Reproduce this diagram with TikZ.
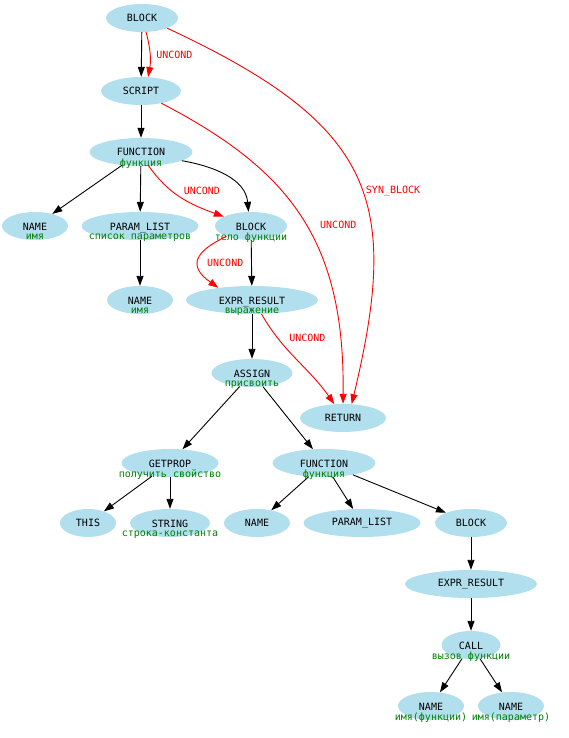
\documentclass[tikz,border=0pt]{standalone}
\usepackage{fontspec}
\setmonofont{DejaVu Sans Mono}
\usetikzlibrary{arrows.meta,shapes.geometric,positioning}
\definecolor{astfill}{RGB}{178,223,238}
\definecolor{astgreen}{RGB}{0,128,0}
\definecolor{astred}{RGB}{255,0,0}
% node text: zero width, so the ellipse keeps its own width
\newcommand{\olbl}[1]{\makebox[0pt]{#1}}
\newcommand{\nlbl}[2]{\makebox[0pt]{\raisebox{-4pt}[0pt][0pt]{%
  \begin{tabular}[t]{@{}c@{}}#1\\\color{astgreen}#2\end{tabular}}}}
\tikzset{
  astnode/.style={
    ellipse, fill=astfill, minimum height=28pt, inner sep=0pt,
    font=\ttfamily\fontsize{10}{9}\selectfont
  },
  tree/.style={-{Triangle[length=10pt,width=7pt]}, draw=black, line width=0.9pt},
  flow/.style={tree, color=astred},
  elbl/.style={font=\ttfamily\fontsize{10}{9}\selectfont, text=astred, inner sep=0pt}
}
\begin{document}
\begin{tikzpicture}[x=1pt, y=1pt]
  \useasboundingbox (0,0) rectangle (569,-738);
  % script level
  \node[astnode, minimum width=72pt] (blk0) at (142,-18) {\olbl{BLOCK}};
  \node[astnode, minimum width=80pt] (scr) at (141,-91) {\olbl{SCRIPT}};
  \node[astnode, minimum width=103pt] (fn0) at (141,-152) {\nlbl{FUNCTION}{функция}};
  \node[astnode, minimum width=66pt] (nm0) at (35,-226) {\nlbl{NAME}{имя}};
  \node[astnode, minimum width=117pt] (pl0) at (140,-226) {\nlbl{PARAM\_LIST}{список параметров}};
  \node[astnode, minimum width=72pt] (blk1) at (251,-226) {\nlbl{BLOCK}{тело функции}};
  \node[astnode, minimum width=66pt] (nm1) at (140,-300) {\nlbl{NAME}{имя}};
  \node[astnode, minimum width=132pt] (er0) at (252,-300) {\nlbl{EXPR\_RESULT}{выражение}};
  \node[astnode, minimum width=81pt] (asg) at (252,-373) {\nlbl{ASSIGN}{присвоить}};
  \node[astnode, minimum width=86pt] (ret) at (343,-418) {\olbl{RETURN}};
  % body of the assignment
  \node[astnode, minimum width=97pt] (gp) at (170,-463) {\nlbl{GETPROP}{получить свойство}};
  \node[astnode, minimum width=103pt] (fn1) at (324,-463) {\nlbl{FUNCTION}{функция}};
  \node[astnode, minimum width=56pt] (ths) at (88,-523) {\olbl{THIS}};
  \node[astnode, minimum width=80pt] (str) at (170,-523) {\nlbl{STRING}{строка-константа}};
  \node[astnode, minimum width=66pt] (nm2) at (257,-523) {\olbl{NAME}};
  \node[astnode, minimum width=117pt] (pl1) at (362,-523) {\olbl{PARAM\_LIST}};
  \node[astnode, minimum width=72pt] (blk2) at (471,-523) {\olbl{BLOCK}};
  \node[astnode, minimum width=132pt] (er1) at (471,-584) {\olbl{EXPR\_RESULT}};
  \node[astnode, minimum width=59pt] (cll) at (471,-645) {\nlbl{CALL}{вызов функции}};
  \node[astnode, minimum width=66pt] (nm3) at (431,-706) {\nlbl{NAME}{имя(функции)}};
  \node[astnode, minimum width=66pt] (nm4) at (511,-706) {\nlbl{NAME}{имя(параметр)}};

  % tree edges
  \foreach \p/\q in {blk0/scr,scr/fn0,fn0/nm0,fn0/pl0,pl0/nm1,blk1/er0,er0/asg,
                     asg/gp,asg/fn1,gp/ths,gp/str,fn1/nm2,fn1/pl1,fn1/blk2,
                     blk2/er1,er1/cll,cll/nm3,cll/nm4}
    \draw[tree] (\p) -- (\q);
  \draw[tree] (fn0.-12) to[out=-10,in=95] (blk1.100);

  % control flow
  \draw[flow] (blk0.-74) to[out=-75,in=80] node[elbl, right=6pt] {UNCOND} (scr.63);
  \draw[flow] (fn0.-61) to[out=-55,in=160]
    node[elbl, anchor=south west, xshift=2pt, yshift=3pt] {UNCOND} (blk1.161);
  \draw[flow] (blk1.-157) to[out=-155,in=145,looseness=1.8]
    node[elbl, right=8pt, yshift=-3pt] {UNCOND} (er0.160);
  \draw[flow] (er0.-56) to[out=-60,in=125]
    node[elbl, pos=.35, anchor=south west, xshift=3pt, yshift=6pt] {UNCOND} (ret.122);
  \draw[flow] (scr.-31) .. controls +(127,-66) and +(2,165) .. (ret.90)
    node[elbl, pos=.53, right=14pt] {UNCOND};
  \draw[flow] (blk0.-22) .. controls +(208,-97) and +(49,205) .. (ret.58)
    node[elbl, pos=.54, right=4pt, yshift=-2pt] {SYN\_BLOCK};
\end{tikzpicture}
\end{document}
